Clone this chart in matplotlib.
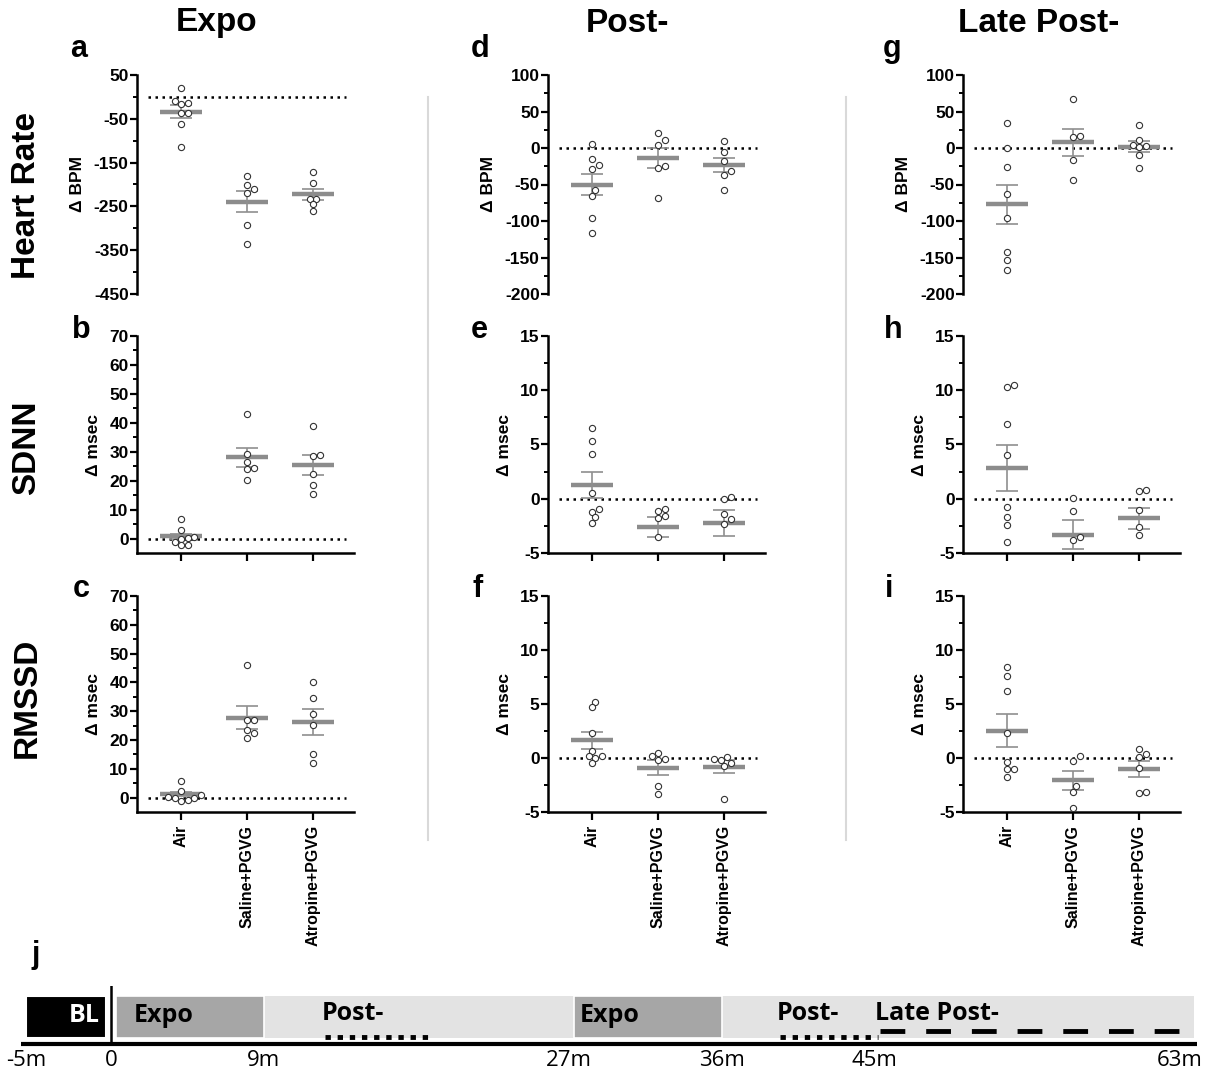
import numpy as np
import matplotlib
matplotlib.use("Agg")
import matplotlib.pyplot as plt
from matplotlib.lines import Line2D
from matplotlib.ticker import MultipleLocator

plt.rcParams['font.family'] = ['Liberation Sans', 'DejaVu Sans']
plt.rcParams['axes.unicode_minus'] = False

# ---------------- data ----------------
groups = ["Air", "Saline+PGVG", "Atropine+PGVG"]
col_titles = ["Expo", "Post-", "Late Post-"]
row_titles = ["Heart Rate", "SDNN", "RMSSD"]
row_ylabels = ["\u0394 BPM", "\u0394 msec", "\u0394 msec"]
panel_letters = [["a", "d", "g"], ["b", "e", "h"], ["c", "f", "i"]]

hr_expo = [[21, -9, -15, -17, -36, -36, -63, -115],
           [-180, -201, -211, -220, -292, -335],
           [-171, -197, -233, -232, -245, -260]]
hr_expo_mean = [-34, -239, -222]
hr_expo_sem = [15, 24.5, 12.5]

hr_post = [[5, -15, -23, -29, -58, -66, -96, -116],
           [20, 11, 4, -25, -28, -68],
           [9, -5, -18, -32, -37, -58]]
hr_post_mean = [-50, -14, -23]
hr_post_sem = [14.5, 13.5, 9.5]

hr_late = [[34, 0, -26, -63, -96, -142, -153, -167],
           [67, 15, 16, -16, -44],
           [31, 11, 4, 3, 2, -10, -28]]
hr_late_mean = [-77, 8, 2]
hr_late_sem = [26.5, 18.5, 7.5]

sdnn_expo = [[6.9, 2.8, 0.6, 0.1, 0.0, -1.2, -2.3, -2.2],
             [43.2, 29.3, 26.3, 24.5, 24.0, 20.3],
             [39.0, 28.7, 28.4, 22.2, 18.6, 15.5]]
sdnn_expo_mean = [0.8, 28.1, 25.5]
sdnn_expo_sem = [0.8, 3.3, 3.5]

sdnn_post = [[6.5, 5.35, 4.1, 0.5, -0.9, -1.2, -1.7, -2.2],
             [-1.1, -0.95, -1.6, -1.75, -3.5],
             [0.0, 0.2, -1.4, -1.9, -2.3]]
sdnn_post_mean = [1.3, -2.6, -2.2]
sdnn_post_sem = [1.2, 0.9, 1.2]

sdnn_late = [[10.3, 10.5, 6.9, 4.05, -0.75, -1.65, -2.4, -4.0],
             [0.05, -1.1, -3.8, -3.5],
             [0.8, 0.7, -1.07, -2.56, -3.3]]
sdnn_late_mean = [2.85, -3.3, -1.8]
sdnn_late_sem = [2.1, 1.35, 0.97]

rmssd_expo = [[5.9, 2.3, 0.35, -0.2, -1.3, -0.7, -0.1, 0.8],
              [46.0, 27.0, 27.0, 23.5, 22.3, 20.6],
              [40.3, 34.7, 28.9, 25.2, 15.0, 12.0]]
rmssd_expo_mean = [1.2, 27.8, 26.2]
rmssd_expo_sem = [0.6, 3.9, 4.5]

rmssd_post = [[5.2, 4.7, 2.35, 0.65, 0.2, 0.15, 0.0, -0.5],
              [0.15, 0.5, -0.06, -0.2, -2.6, -3.3],
              [-0.06, 0.12, -0.2, -0.45, -0.75, -3.75]]
rmssd_post_mean = [1.64, -0.9, -0.8]
rmssd_post_sem = [0.8, 0.7, 0.6]

rmssd_late = [[8.4, 7.6, 6.2, 2.3, -0.4, -1.0, -1.0, -1.76],
              [0.2, -0.28, -2.6, -3.15, -4.6],
              [0.83, 0.37, 0.06, -0.9, -3.2, -3.15]]
rmssd_late_mean = [2.53, -2.07, -1.0]
rmssd_late_sem = [1.5, 0.9, 0.75]

# timeline (minutes)
tl_ticks = [-5, 0, 9, 27, 36, 45, 63]
tl_ticklabels = ["-5m", "0", "9m", "27m", "36m", "45m", "63m"]
tl_bl = (-5, 0)
tl_expo = [(0, 9), (27, 36)]
tl_post = [(9, 27), (36, 63)]

panels = [
    [(hr_expo, hr_expo_mean, hr_expo_sem), (hr_post, hr_post_mean, hr_post_sem), (hr_late, hr_late_mean, hr_late_sem)],
    [(sdnn_expo, sdnn_expo_mean, sdnn_expo_sem), (sdnn_post, sdnn_post_mean, sdnn_post_sem), (sdnn_late, sdnn_late_mean, sdnn_late_sem)],
    [(rmssd_expo, rmssd_expo_mean, rmssd_expo_sem), (rmssd_post, rmssd_post_mean, rmssd_post_sem), (rmssd_late, rmssd_late_mean, rmssd_late_sem)],
]

# ---------------- layout ----------------
W, H = 1212, 1076
fig = plt.figure(figsize=(W / 100, H / 100), dpi=100)

def fx(px):
    return px / W

def fy(py):
    return 1 - py / H

col_left = [137, 548, 963]
col_w = 217
row_top = [75, 336, 596]
row_bot = [294, 553, 812]

GRAY_BAR = "#8c8c8c"
GRAY_ERR = "#8f8f8f"

def swarm(ax, x0, vals, diam):
    pts = ax.transData.transform(np.column_stack([np.full(len(vals), x0), vals]))
    pxu = ax.transData.transform([(1, 0)])[0][0] - ax.transData.transform([(0, 0)])[0][0]
    order = np.argsort(pts[:, 1])
    placed = []
    xs = np.zeros(len(vals))
    for i in order:
        y = pts[i, 1]
        cands = [0]
        for k in range(1, 8):
            cands += [k * diam * 0.5, -k * diam * 0.5]
        for c in cands:
            ok = True
            for (px, py) in placed:
                if (px - c) ** 2 + (py - y) ** 2 < (diam * 0.95) ** 2:
                    ok = False
                    break
            if ok:
                break
        placed.append((c, y))
        xs[i] = x0 + c / pxu
    return xs

for r in range(3):
    for c in range(3):
        vals, means, sems = panels[r][c]
        ax = fig.add_axes([fx(col_left[c]), fy(row_bot[r]), fx(col_w), (row_bot[r] - row_top[r]) / H])
        ax.set_xlim(-0.67, 2.62)
        if r == 0 and c == 0:
            ax.set_ylim(-450, 50)
            ax.set_yticks(np.arange(-450, 51, 100))
            ax.yaxis.set_minor_locator(MultipleLocator(50))
        elif r == 0:
            ax.set_ylim(-200, 100)
            ax.yaxis.set_major_locator(MultipleLocator(50))
            ax.yaxis.set_minor_locator(MultipleLocator(25))
        elif c == 0:
            ax.set_ylim(-5, 70)
            ax.set_yticks(np.arange(0, 71, 10))
            ax.set_yticks(np.arange(5, 70, 10), minor=True)
        else:
            ax.set_ylim(-5, 15)
            ax.yaxis.set_major_locator(MultipleLocator(5))
            ax.yaxis.set_minor_locator(MultipleLocator(2.5))

        for s in ["top", "right"]:
            ax.spines[s].set_visible(False)
        ax.spines["left"].set_linewidth(1.8)
        ax.spines["bottom"].set_linewidth(1.8)
        ax.tick_params(axis="y", which="major", length=5, width=1.6, labelsize=12.5, pad=1)
        ax.tick_params(axis="y", which="minor", length=3, width=1.4)
        for lab in ax.get_yticklabels():
            lab.set_fontweight("bold")
        if r == 0:
            ax.spines["bottom"].set_visible(False)
            ax.set_xticks([])
        else:
            ax.set_xticks([0, 1, 2])
            ax.tick_params(axis="x", which="major", length=6, width=1.6)
            if r == 2:
                ax.set_xticklabels(groups, rotation=90, fontsize=11.5, fontweight="bold")
            else:
                ax.set_xticklabels([])
        ax.set_ylabel(row_ylabels[r], fontsize=12.5, fontweight="bold", labelpad=6)
        ax.patch.set_alpha(0)

        ax.hlines(0, -0.5, 2.5, colors="black", linestyles=(0, (1, 1.8)), linewidth=1.8, zorder=1)
        for g in range(3):
            ax.hlines(means[g], g - 0.32, g + 0.32, colors=GRAY_BAR, linewidth=3.2, zorder=2)
            ax.vlines(g, means[g] - sems[g], means[g] + sems[g], colors=GRAY_ERR, linewidth=1.2, zorder=2)
            ax.hlines([means[g] - sems[g], means[g] + sems[g]], g - 0.17, g + 0.17, colors=GRAY_ERR, linewidth=1.2, zorder=2)
            xs = swarm(ax, g, np.array(vals[g], dtype=float), 6.5)
            ax.scatter(xs, vals[g], s=20, facecolors="white", edgecolors="#333333", linewidths=0.8, zorder=3, clip_on=False)

# panel letters
letter_pos_x = [[79, 480, 892], [81, 479, 893], [81, 478, 889]]
letter_base_y = [57, 338, 597]
for r in range(3):
    for c in range(3):
        fig.text(fx(letter_pos_x[r][c]), fy(letter_base_y[r]), panel_letters[r][c], fontsize=22,
                 fontweight="bold", ha="center", va="baseline")

# column titles
for c, (x, t) in enumerate(zip([217, 627, 1039], col_titles)):
    fig.text(fx(x), fy(23), t, fontsize=24, fontweight="bold", ha="center", va="center")

# row titles
for r, (y, t) in enumerate(zip([195, 448, 698], row_titles)):
    fig.text(fx(27), fy(y), t, fontsize=24, fontweight="bold", ha="center", va="center", rotation=90)

# separators
for x in [428, 846]:
    fig.add_artist(Line2D([fx(x), fx(x)], [fy(97), fy(840)], color="#d9d9d9", linewidth=1.5))

# ---------------- timeline ----------------
tl_left_px, tl_right_px = 18, 1197
tax = fig.add_axes([fx(tl_left_px), fy(1076), fx(tl_right_px - tl_left_px), 90 / H])
tax.set_xlim(-5.5, 64)
tax.set_ylim(0, 1)
tax.axis("off")

def ty(py):
    return (1076 - py) / 90

bar_y0, bar_y1 = ty(1038), ty(996)
tax.axvspan(tl_post[0][0], tl_post[1][1] + 0.8, ymin=bar_y0, ymax=bar_y1, facecolor="#e3e3e3", edgecolor="none", zorder=1)
for a, b in tl_expo:
    tax.axvspan(a + 0.25, b, ymin=bar_y0, ymax=bar_y1, facecolor="#a6a6a6", edgecolor="white", linewidth=1.2, zorder=2)
tax.axvspan(tl_bl[0], tl_bl[1] - 0.3, ymin=bar_y0, ymax=bar_y1, facecolor="black", edgecolor="white", linewidth=1.5, zorder=2)
tax.plot([tl_bl[1], tl_bl[1]], [ty(1045), ty(985)], color="black", linewidth=1.8, zorder=4,
         solid_capstyle="butt")
tax.plot([tl_bl[0] - 0.3, tl_post[1][1] + 1.2], [ty(1044), ty(1044)], color="black", linewidth=3, zorder=4,
         solid_capstyle="butt")
for t, lab in zip(tl_ticks, tl_ticklabels):
    tax.text(t, ty(1061), lab, fontsize=16, ha="center", va="center", family=["Open Sans", "DejaVu Sans"])

tfont = dict(fontsize=18, fontweight="bold", va="center", family=["Open Sans", "DejaVu Sans"], zorder=5)
tax.text(-1.6, ty(1016), "BL", color="white", ha="center", **tfont)
tax.text(1.3, ty(1016), "Expo", ha="left", **tfont)
tax.text(27.6, ty(1016), "Expo", ha="left", **tfont)
tax.text(12.4, ty(1014), "Post-", ha="left", **tfont)
tax.text(39.2, ty(1014), "Post-", ha="left", **tfont)
tax.text(45.0, ty(1014), "Late Post-", ha="left", **tfont)
# dotted underline for Post- windows, dashed for Late Post-
tax.plot([12.6, 18.7], [ty(1037), ty(1037)], color="black", linewidth=3.5, linestyle=(0, (1.1, 1.4)),
         dash_capstyle="butt", zorder=5)
tax.plot([39.4, 45.2], [ty(1037), ty(1037)], color="black", linewidth=3.5, linestyle=(0, (1.1, 1.4)),
         dash_capstyle="butt", zorder=5)
tax.plot([45.3, 63.0], [ty(1031), ty(1031)], color="black", linewidth=3.5, linestyle=(0, (5.1, 4.3)),
         dash_capstyle="butt", zorder=5)

fig.text(fx(36), fy(963), "j", fontsize=22, fontweight="bold", ha="center", va="baseline")

fig.savefig("out.png", dpi=100)
